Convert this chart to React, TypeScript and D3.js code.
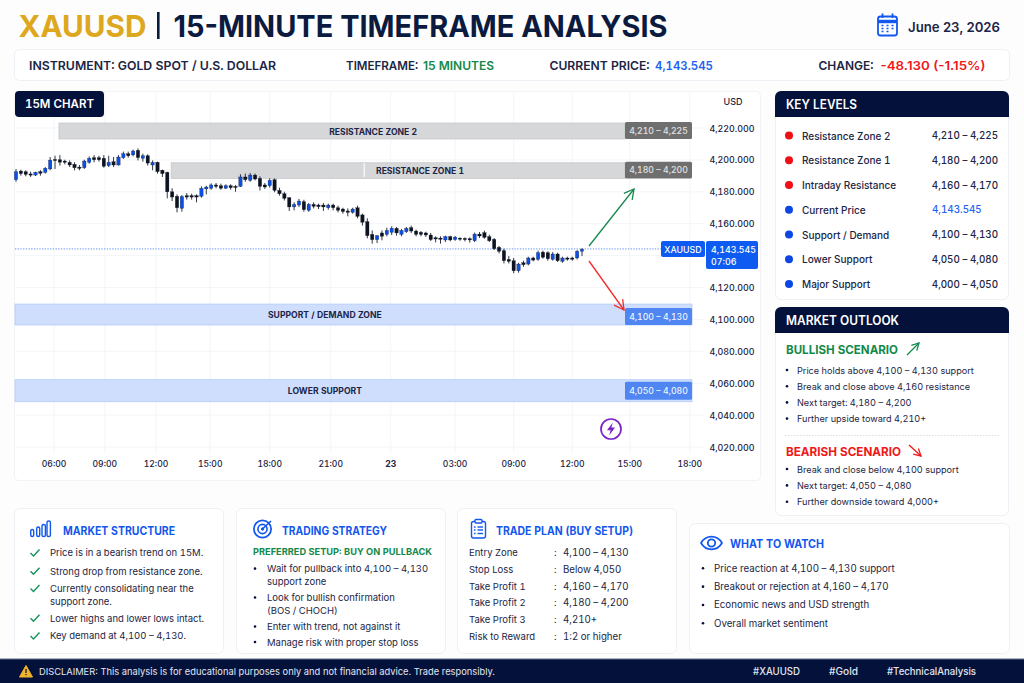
import React from "react";
import * as d3 from "d3";

// ---------- data ----------
const candleHigh = [4194.3,4193.9,4193.5,4192.6,4192.6,4193.6,4195.5,4201.8,4202.6,4203,4200.1,4199.7,4198.5,4196.8,4200.1,4202.2,4203,4202.6,4203,4202.6,4201.8,4203,4205.2,4205.2,4206.4,4207.2,4203.9,4203.5,4199.7,4198.9,4193.9,
4192.6,4182.2,4178.4,4178,4179.2,4178.8,4178.4,4183.4,4183.8,4185.3,4185.5,4185.1,4184.7,4184.7,4184.3,4191,4191.4,4191.8,4191.4,4189.7,4185.5,4188.4,4188.4,4182.6,4180,4176.7,4173.4,4175.5,4175,
4173,4173.4,4172.6,4173,4172.6,4172.6,4171.3,4170,4169.6,4170,4171.3,4166.3,4163.4,4155.8,4152.9,4155.8,4157.5,4158.4,4157.9,4156.7,4157.9,4158.8,4156.3,4155.4,4155,4154.2,4152.1,4152.1,
4152.5,4152.5,4152.3,4151.4,4151.4,4151.4,4154.4,4154.8,4155.6,4153.1,4151,4146,4144.3,4139.7,4138.5,4135.5,4136.8,4139.3,4139.3,4143.1,4143.1,4142.7,4142.2,4141.8,4139.3,4139.3,4139.3,4143.5,4144.7];
const candleBodyTop = [4192.6,4193,4192.6,4191.2,4192.2,4192.6,4194.7,4199.9,4200.3,4200.1,4199.3,4198.5,4197.2,4195.5,4199.3,4201,4201.4,4201.4,4201,4198.5,4198.9,4201.8,4203.9,4203.9,4205.6,4206,4202.6,4202.6,4198.5,4198.5,4193.5,
4192.2,4180,4177.2,4177,4177.6,4177.6,4177.6,4182.2,4183,4184.3,4184.3,4183.8,4183.8,4183.8,4183.4,4189.3,4189.3,4190.5,4190.5,4188.4,4184.3,4187.2,4187.6,4180.9,4178.8,4176.3,4172.1,4174.2,4173.8,
4172.1,4172.1,4171.7,4171.7,4171.7,4171.7,4170,4169.2,4168,4169.2,4170,4165.5,4161.3,4153.3,4152.5,4154.2,4155.8,4157.1,4157.1,4155.8,4157.1,4157.5,4155.4,4154.6,4154.2,4152.9,4151.2,4151,
4151.9,4151.9,4151.6,4151,4150.8,4150.6,4153.5,4153.5,4154.4,4151.9,4150.2,4145.2,4143.1,4137.6,4136.8,4134.7,4135.5,4138.5,4138.5,4141.8,4142.2,4141.8,4141,4141,4138.5,4138.5,4138.5,4142.7,4143.9];
const candleBodyBottom = [4187.6,4191.4,4190.9,4190.5,4190.5,4191.6,4192.2,4194.3,4199.9,4198.5,4198.5,4196.8,4195.1,4194.7,4195.1,4198.5,4200.1,4200.1,4196,4196.4,4196.8,4196.8,4201.4,4202.6,4203.1,4201.4,4201,4198,4196.8,4192.6,4191.4,
4180,4176.7,4170,4169.6,4176.7,4176.7,4176.7,4177.2,4181.8,4182.2,4183.4,4182.2,4182.2,4182.6,4183,4183.4,4187.6,4187.2,4188,4183.4,4183,4183.8,4180.9,4178.8,4175.9,4170.5,4170.5,4171.7,4168.8,
4168.4,4170.9,4170.7,4170.5,4170,4170,4168.4,4167.6,4167.1,4167.1,4164.6,4160.9,4152.5,4150,4150,4152.1,4153.3,4154.6,4154.2,4153.3,4155,4155.4,4153.3,4153.3,4152.9,4150,4150.4,4150.2,
4149.8,4149.8,4150,4150.2,4150,4149.8,4149.3,4152.3,4151.4,4149.3,4144.3,4142.7,4136.8,4136.4,4130.5,4130.5,4134.3,4134.7,4137.2,4137.6,4138.9,4138,4137.6,4136.8,4136.4,4137.9,4137.9,4138.5,4142.7];
const candleLow = [4186.3,4190.1,4189.7,4189.3,4189.9,4190.1,4191.4,4193.5,4194.3,4196.4,4197.2,4195.5,4193.5,4193.5,4194.3,4197.6,4198.5,4198.9,4195.1,4195.5,4195.5,4196.4,4200.6,4201.4,4202.2,4199.7,4198.9,4196.4,4193.5,4191.4,4189.3,
4175.9,4174.2,4167.1,4167.5,4175.1,4175.1,4173.4,4176.3,4178.4,4181.3,4182.2,4181.3,4181.8,4181.3,4180,4183,4186.3,4186.3,4187.2,4180.9,4181.8,4182.6,4179.7,4177.6,4174.6,4168,4168.4,4170.5,4167.5,
4167.5,4169.6,4169.2,4168,4168.8,4168.4,4167.1,4166.3,4164.6,4166.3,4163.4,4158.8,4150.8,4147.5,4147.9,4149.6,4152.1,4152.9,4152.5,4152.1,4154.2,4154.2,4152.1,4152.1,4151.7,4149.2,4148.3,4147.5,
4148.5,4148.9,4149.3,4149.3,4148.9,4148.1,4148.5,4151,4150.6,4148.5,4143.5,4141.4,4135.1,4135.1,4128.9,4129.3,4133,4133.9,4136.4,4136.8,4138.1,4136.8,4136.8,4136,4135.5,4136.8,4136.8,4137.6,4139.7];
const candleUp = "UDDDUDUUDDDDDDUUDDDUDUUDUDUDUDD" + "DDDUDDDUUUDDUDDUDUDDDUDDDDUUD" + "UDDDUDDDDUDDDDUDUUDUUDDDDDDD" + "UDUDDDUDDDDDDDDUDUDUDDUDUDDUU";

const priceTicks = [4220,4200,4180,4160,4120,4100,4080,4060,4040,4020];
const allGridTicks = [4220,4200,4180,4160,4140,4120,4100,4080,4060,4040,4020];
const timeLabels = ["06:00","09:00","12:00","15:00","18:00","21:00","23","03:00","09:00","12:00","15:00","18:00"];
const timeBars = [7.8,18.2,28.7,39.8,52,64.5,76.8,90,102,114,125.8,138.1];
const currentPrice = 4143.545;

const zoneNames = ["RESISTANCE ZONE 2","RESISTANCE ZONE 1","SUPPORT / DEMAND ZONE","LOWER SUPPORT"];
const zoneTags = ["4,210 – 4,225","4,180 – 4,200","4,100 – 4,130","4,050 – 4,080"];
const zoneTop = [4223.1,4198.2,4109.6,4062.2];
const zoneBottom = [4213.1,4188.4,4096.5,4048.4];
const zoneStartBar = [8.8,31.8,-0.2,-0.2];
const zoneLabelBar = [73.2,82.8,63.3,63.3];

const levelNames = ["Resistance Zone 2","Resistance Zone 1","Intraday Resistance","Current Price","Support / Demand","Lower Support","Major Support"];
const levelValues = ["4,210 – 4,225","4,180 – 4,200","4,160 – 4,170","4,143.545","4,100 – 4,130","4,050 – 4,080","4,000 – 4,050"];
const levelIsRed = [true,true,true,false,false,false,false];

const bullishItems = ["Price holds above 4,100 – 4,130 support","Break and close above 4,160 resistance","Next target: 4,180 – 4,200","Further upside toward 4,210+"];
const bearishItems = ["Break and close below 4,100 support","Next target: 4,050 – 4,080","Further downside toward 4,000+"];
const structureItems = [["Price is in a bearish trend on 15M."],["Strong drop from resistance zone."],["Currently consolidating near the","support zone."],["Lower highs and lower lows intact."],["Key demand at 4,100 – 4,130."]];
const strategyItems = [["Wait for pullback into 4,100 – 4,130","support zone"],["Look for bullish confirmation","(BOS / CHOCH)"],["Enter with trend, not against it"],["Manage risk with proper stop loss"]];
const planLabels = ["Entry Zone","Stop Loss","Take Profit 1","Take Profit 2","Take Profit 3","Risk to Reward"];
const planValues = ["4,100 – 4,130","Below 4,050","4,160 – 4,170","4,180 – 4,200","4,210+","1:2 or higher"];
const watchItems = ["Price reaction at 4,100 – 4,130 support","Breakout or rejection at 4,160 – 4,170","Economic news and USD strength","Overall market sentiment"];

// ---------- style ----------
const NAVY = "#04123b";
const INK = "#1b2545";
const BLUE = "#1257ee";
const GREEN = "#138a4b";
const RED = "#f01818";
const FONT = "Inter, 'Noto Sans', sans-serif";
const PANEL = "#eef0f5";

const y = d3.scaleLinear().domain([4020, 4220]).range([447, 128]);
const x = d3.scaleLinear().domain([0, 116]).range([16, 582]);

function T(p: any) {
  const { x: tx, y: ty, s = 10, w = 500, c = INK, a = "start", ls, len, prop, children } = p;
  return (
    <text x={tx} y={ty} fontSize={s} fontWeight={w} fill={c} textAnchor={a} dominantBaseline="central" letterSpacing={ls} fontFamily={FONT}
      textLength={len} lengthAdjust={len ? "spacingAndGlyphs" : undefined} style={{ fontVariantNumeric: prop ? "normal" : "tabular-nums" }}>
      {children}
    </text>
  );
}

function Panel({ x: px, y: py, w, h }: any) {
  return <rect x={px} y={py} width={w} height={h} rx={6} fill="#fff" stroke={PANEL} strokeWidth={1} />;
}

function Header({ x: px, y: py, w, h, label, len }: any) {
  const r = 6;
  const d = d3.path();
  d.moveTo(px, py + h);
  d.lineTo(px, py + r);
  d.arcTo(px, py, px + r, py, r);
  d.lineTo(px + w - r, py);
  d.arcTo(px + w, py, px + w, py + r, r);
  d.lineTo(px + w, py + h);
  d.closePath();
  return (
    <g>
      <path d={d.toString()} fill={NAVY} />
      <T x={px + 11} y={py + h / 2} s={12.5} w={600} c="#fff" len={len}>{label}</T>
    </g>
  );
}

function Arrow({ x1, y1, x2, y2, c, w = 1.4, head = 9 }: any) {
  const ang = Math.atan2(y2 - y1, x2 - x1);
  const a1 = ang + Math.PI - 0.5;
  const a2 = ang + Math.PI + 0.5;
  return (
    <g fill="none" stroke={c} strokeWidth={w}>
      <line x1={x1} y1={y1} x2={x2} y2={y2} />
      <polyline points={`${x2 + head * Math.cos(a1)},${y2 + head * Math.sin(a1)} ${x2},${y2} ${x2 + head * Math.cos(a2)},${y2 + head * Math.sin(a2)}`} />
    </g>
  );
}

function Candles() {
  return (
    <g>
      {candleHigh.map((h, i) => {
        const cx = x(i);
        const up = candleUp[i] === "U";
        const col = up ? "#0c4fe3" : "#0d1320";
        const top = y(candleBodyTop[i]);
        const bot = y(candleBodyBottom[i]);
        return (
          <g key={i}>
            <line x1={cx} x2={cx} y1={y(h)} y2={y(candleLow[i])} stroke="#1a2030" strokeWidth={0.9} />
            <rect x={cx - 1.7} width={3.4} y={top} height={Math.max(bot - top, 1.2)} fill={col} stroke="#0d1320" strokeWidth={0.25} />
          </g>
        );
      })}
    </g>
  );
}

function Chart() {
  const priceY = y(currentPrice);
  return (
    <g>
      <rect x={14.5} y={91.5} width={746} height={389} rx={4} fill="#fff" stroke="#f1f3f7" />
      {allGridTicks.map((t) => (
        <line key={t} x1={15} x2={704} y1={y(t)} y2={y(t)} stroke="#f3f5f9" />
      ))}
      {timeBars.map((b, i) => (
        <line key={i} x1={x(b)} x2={x(b)} y1={92} y2={453} stroke="#f3f5f9" />
      ))}
      {zoneNames.map((n, i) => {
        const res = i < 2;
        const x0 = x(zoneStartBar[i]);
        const top = y(zoneTop[i]);
        const bot = y(zoneBottom[i]);
        const tagTop = res ? top - 1 : i === 2 ? top + 4 : top + 2;
        const tagBot = res ? bot : i === 2 ? bot : bot - 2;
        return (
          <g key={n}>
            <rect x={x0} y={top} width={(res ? 625 : 692) - x0} height={bot - top} fill={res ? "#d6d7d9" : "#cfdefc"} stroke={res ? "#c6c7ca" : "#b4cbfa"} strokeWidth={0.8} />
            <rect x={625} y={tagTop} width={67} height={tagBot - tagTop} rx={1.5} fill={res ? "#6f6f6f" : "#4f86f1"} />
            <T x={658.5} y={(tagTop + tagBot) / 2} s={8.7} w={500} c={res ? "#e2e2e2" : "#eef3ff"} a="middle">{zoneTags[i]}</T>
            <T x={x(zoneLabelBar[i])} y={(top + bot) / 2 + 0.5} s={8.6} w={700} c="#1c2547" a="middle">{n}</T>
          </g>
        );
      })}
      <rect x={363.5} y={163} width={1.6} height={14} fill="#f4f4f4" />
      <line x1={15} x2={661} y1={priceY - 1} y2={priceY - 1} stroke="#5d8ff2" strokeWidth={1} strokeDasharray="1.3 1.4" />
      <Candles />
      <Arrow x1={589} y1={246} x2={634} y2={189} c="#16894c" w={1.3} head={11} />
      <Arrow x1={589} y1={261} x2={624} y2={310} c="#f52a2a" w={1.3} head={11} />
      <rect x={661} y={241} width={44} height={16} rx={2} fill="#0d5bf0" />
      <T x={683} y={249} s={8.8} w={500} c="#fff" a="middle">XAUUSD</T>
      <rect x={706} y={241} width={52} height={28} rx={2} fill="#0d5bf0" />
      <T x={711} y={249} s={8.9} w={500} c="#fff">4,143.545</T>
      <T x={711} y={261} s={8.9} w={500} c="#fff">07:06</T>
      <T x={733} y={101} s={9} w={500} a="middle">USD</T>
      {priceTicks.map((t) => (
        <T key={t} x={732} y={y(t)} s={8.9} w={500} a="middle">{`${d3.format(",")(t)}.000`}</T>
      ))}
      {timeLabels.map((l, i) => (
        <T key={i} x={x(timeBars[i])} y={464} s={8.6} w={l === "23" ? 700 : 500} a="middle">{l}</T>
      ))}
      <rect x={15} y={91} width={89} height={26} rx={4} fill={NAVY} />
      <T x={59.5} y={104} s={11.5} w={600} c="#fff" a="middle">15M CHART</T>
      <circle cx={611} cy={429} r={10} fill="#fff" stroke="#7b22c8" strokeWidth={1.7} />
      <path d="M612.8 422.5 L607 430.3 L610.6 430.3 L609.2 435.5 L615 427.6 L611.4 427.6 Z" fill="#7b22c8" />
    </g>
  );
}

function Bullet({ x: bx, y: by, children, s = 9.15, gap = 10, r = 1.3 }: any) {
  return (
    <g>
      <circle cx={bx} cy={by} r={r} fill={NAVY} />
      <T x={bx + gap} y={by} s={s} w={400}>{children}</T>
    </g>
  );
}

function Sidebar() {
  const levelY = d3.scaleLinear().domain([0, 6]).range([135.6, 284]);
  return (
    <g>
      <Panel x={775.5} y={91.5} w={233} h={208} />
      <Header x={775} y={91} w={234} h={26} label="KEY LEVELS" len={71} />
      {levelNames.map((n, i) => (
        <g key={n}>
          <circle cx={789} cy={levelY(i)} r={4} fill={levelIsRed[i] ? "#f00f14" : "#0c47e6"} />
          <T x={802} y={levelY(i)} s={10} w={500}>{n}</T>
          {i === 3 ? (
            <T x={932} y={levelY(i)} s={9.8} w={500} c="#1d62f2">{levelValues[i]}</T>
          ) : (
            <T x={998} y={levelY(i)} s={9.8} w={500} a="end">{levelValues[i]}</T>
          )}
        </g>
      ))}
      <Panel x={775.5} y={307.5} w={233} h={208} />
      <Header x={775} y={307} w={234} h={26} label="MARKET OUTLOOK" len={113} />
      <T x={786} y={349} s={12} w={700} c={GREEN} len={112}>BULLISH SCENARIO</T>
      <Arrow x1={907} y1={355} x2={919} y2={343} c={GREEN} w={1.3} head={8} />
      {bullishItems.map((t, i) => (
        <Bullet key={t} x={787} y={370 + i * 16.2}>{t}</Bullet>
      ))}
      <line x1={785} x2={999} y1={435.5} y2={435.5} stroke="#d9dce3" strokeDasharray="1.5 1.5" />
      <T x={786} y={451} s={12} w={700} c={RED} len={115}>BEARISH SCENARIO</T>
      <Arrow x1={909} y1={445} x2={921} y2={456} c={RED} w={1.3} head={8} />
      {bearishItems.map((t, i) => (
        <Bullet key={t} x={787} y={469 + i * 16.4}>{t}</Bullet>
      ))}
    </g>
  );
}

function Check({ cx, cy }: any) {
  return <polyline points={`${cx - 4.5},${cy} ${cx - 1.5},${cy + 3} ${cx + 4.5},${cy - 3.5}`} fill="none" stroke="#14935a" strokeWidth={1.4} />;
}

function Bottom() {
  const structY = [552.7, 571, 588.2, 618, 635.7];
  const stratY = [568.6, 597.5, 626.5, 642];
  const planY = d3.scaleLinear().domain([0, 5]).range([552.5, 636.5]);
  const watchY = d3.scaleLinear().domain([0, 3]).range([568.3, 623.3]);
  return (
    <g>
      <Panel x={14.5} y={508.5} w={209} h={145} />
      <Panel x={236.5} y={508.5} w={209} h={145} />
      <Panel x={457.5} y={508.5} w={219} h={145} />
      <Panel x={689.5} y={523.5} w={320} h={130} />

      {/* market structure */}
      <g fill="none" stroke={BLUE} strokeWidth={1.4}>
        <rect x={30.7} y={529.5} width={3} height={7} rx={1.5} />
        <rect x={36.7} y={527} width={3} height={9.5} rx={1.5} />
        <rect x={42} y={524.5} width={3.4} height={12} rx={1.6} />
        <rect x={47} y={521} width={3.4} height={15.5} rx={1.6} />
      </g>
      <T x={63} y={530.5} s={11.2} w={700} c={BLUE} len={112}>MARKET STRUCTURE</T>
      {structureItems.map((lines, i) => (
        <g key={i}>
          <Check cx={35} cy={structY[i] + 0.3} />
          {lines.map((l, j) => (
            <T key={l} x={50} y={structY[i] + j * 13.5} s={9.5} w={400}>{l}</T>
          ))}
        </g>
      ))}

      {/* trading strategy */}
      <g fill="none" stroke={BLUE}>
        <circle cx={262.5} cy={529} r={8.6} strokeWidth={1.8} />
        <circle cx={262.5} cy={529} r={4.6} strokeWidth={1.6} />
        <circle cx={262.5} cy={529} r={1.2} fill={BLUE} />
        <line x1={263} y1={528.5} x2={271} y2={521} strokeWidth={1.6} />
      </g>
      <T x={282} y={530.5} s={11.2} w={700} c={BLUE} len={105}>TRADING STRATEGY</T>
      <T x={253} y={551.5} s={9.2} w={700} c={GREEN} len={179}>PREFERRED SETUP: BUY ON PULLBACK</T>
      {strategyItems.map((lines, i) => (
        <g key={i}>
          {lines.map((l, j) =>
            j === 0 ? (
              <Bullet key={l} x={255} y={stratY[i]} gap={12} s={9.5}>{l}</Bullet>
            ) : (
              <T key={l} x={267} y={stratY[i] + 13.2} s={9.5} w={400}>{l}</T>
            )
          )}
        </g>
      ))}

      {/* trade plan */}
      <g fill="none" stroke={BLUE} strokeWidth={1.4}>
        <rect x={471.5} y={521.5} width={14} height={16.5} rx={2} />
        <rect x={475} y={519.5} width={7} height={3.5} rx={1} fill="#fff" />
        <line x1={474} x2={475.5} y1={527} y2={527} />
        <line x1={477.5} x2={483} y1={527} y2={527} />
        <line x1={474} x2={475.5} y1={530} y2={530} />
        <line x1={477.5} x2={483} y1={530} y2={530} />
        <line x1={474} x2={475.5} y1={533.5} y2={533.5} />
        <line x1={477.5} x2={483} y1={533.5} y2={533.5} />
      </g>
      <T x={496} y={530.5} s={11.2} w={700} c={BLUE} len={137}>TRADE PLAN (BUY SETUP)</T>
      {planLabels.map((l, i) => (
        <g key={l}>
          <T x={469} y={planY(i)} s={9.5} w={400}>{l}</T>
          <T x={554} y={planY(i)} s={9.7} w={400}>:</T>
          <T x={563} y={planY(i)} s={9.7} w={400}>{planValues[i]}</T>
        </g>
      ))}

      {/* what to watch */}
      <path d="M701 543 C706 534.5 717 534.5 722 543 C717 551.5 706 551.5 701 543 Z" fill="none" stroke={BLUE} strokeWidth={1.7} />
      <circle cx={711.5} cy={543} r={3.7} fill="none" stroke={BLUE} strokeWidth={1.8} />
      <T x={730} y={543.5} s={11.2} w={700} c={BLUE} len={94}>WHAT TO WATCH</T>
      {watchItems.map((t, i) => (
        <Bullet key={t} x={703} y={watchY(i)} gap={11} s={9.7}>{t}</Bullet>
      ))}

      {/* footer */}
      <rect x={0} y={659} width={1024} height={24} fill={NAVY} />
      <line x1={0} x2={1024} y1={659} y2={659} stroke="#5f6a88" />
      <path d="M26 665.5 L32.5 677 L19.5 677 Z" fill="#f0b429" stroke="#f0b429" strokeLinejoin="round" />
      <rect x={25.4} y={669} width={1.2} height={4} fill={NAVY} />
      <rect x={25.4} y={674} width={1.2} height={1.2} fill={NAVY} />
      <T x={39} y={671.5} s={9.4} w={400} c="#e2e5ef" len={456} prop>DISCLAIMER: This analysis is for educational purposes only and not financial advice. Trade responsibly.</T>
      <T x={753} y={671.5} s={9.7} w={500} c="#e2e5ef" len={47}>#XAUUSD</T>
      <T x={829} y={671.5} s={9.7} w={500} c="#e2e5ef" len={29}>#Gold</T>
      <T x={887} y={671.5} s={9.7} w={500} c="#e2e5ef" len={89}>#TechnicalAnalysis</T>
    </g>
  );
}

function Head() {
  return (
    <g>
      <T x={18.5} y={25} s={30.5} w={700} c="#dda81e" len={128} prop>XAUUSD</T>
      <rect x={157} y={12} width={2.6} height={27} fill="#0b1b3f" />
      <T x={173.5} y={25} s={30.5} w={700} c="#0b1b3f" len={494} prop>15-MINUTE TIMEFRAME ANALYSIS</T>
      <g fill="none" stroke={BLUE} strokeWidth={1.8}>
        <rect x={878} y={16.5} width={19} height={19} rx={2.5} />
        <line x1={878} x2={897} y1={21.5} y2={21.5} strokeWidth={3.4} />
        <line x1={882.5} x2={882.5} y1={13.5} y2={18} />
        <line x1={892.5} x2={892.5} y1={13.5} y2={18} />
        <path d="M881.5 25.5h2M886.5 25.5h2M891.5 25.5h2M881.5 28.5h2M886.5 28.5h2M891.5 28.5h2M881.5 31.5h2M886.5 31.5h2" strokeWidth={1.7} />
      </g>
      <T x={908} y={27} s={13.3} w={600} len={92} prop>June 23, 2026</T>
      <rect x={14.5} y={49.5} width={995} height={31} rx={5} fill="#fff" stroke={PANEL} />
      <T x={29} y={65} s={12.3} w={600} len={247}>INSTRUMENT: GOLD SPOT / U.S. DOLLAR</T>
      <T x={346} y={65} s={12.3} w={600} len={72}>TIMEFRAME:</T>
      <T x={423} y={65} s={12.3} w={600} c={GREEN} len={71} prop>15 MINUTES</T>
      <T x={549.5} y={65} s={12.3} w={600} len={100}>CURRENT PRICE:</T>
      <T x={655} y={65} s={12.3} w={600} c="#1d62f2" len={58}>4,143.545</T>
      <T x={818.5} y={65} s={12.3} w={600} len={55}>CHANGE:</T>
      <T x={880.5} y={65} s={12.3} w={600} c={RED} len={105} prop>-48.130 (-1.15%)</T>
    </g>
  );
}

export default function App() {
  return (
    <svg width={1024} height={683} viewBox="0 0 1024 683" style={{ position: "absolute", left: 0, top: 0, background: "#fff" }}>
      <rect width={1024} height={683} fill="#fdfdfe" />
      <Head />
      <Chart />
      <Sidebar />
      <Bottom />
    </svg>
  );
}
